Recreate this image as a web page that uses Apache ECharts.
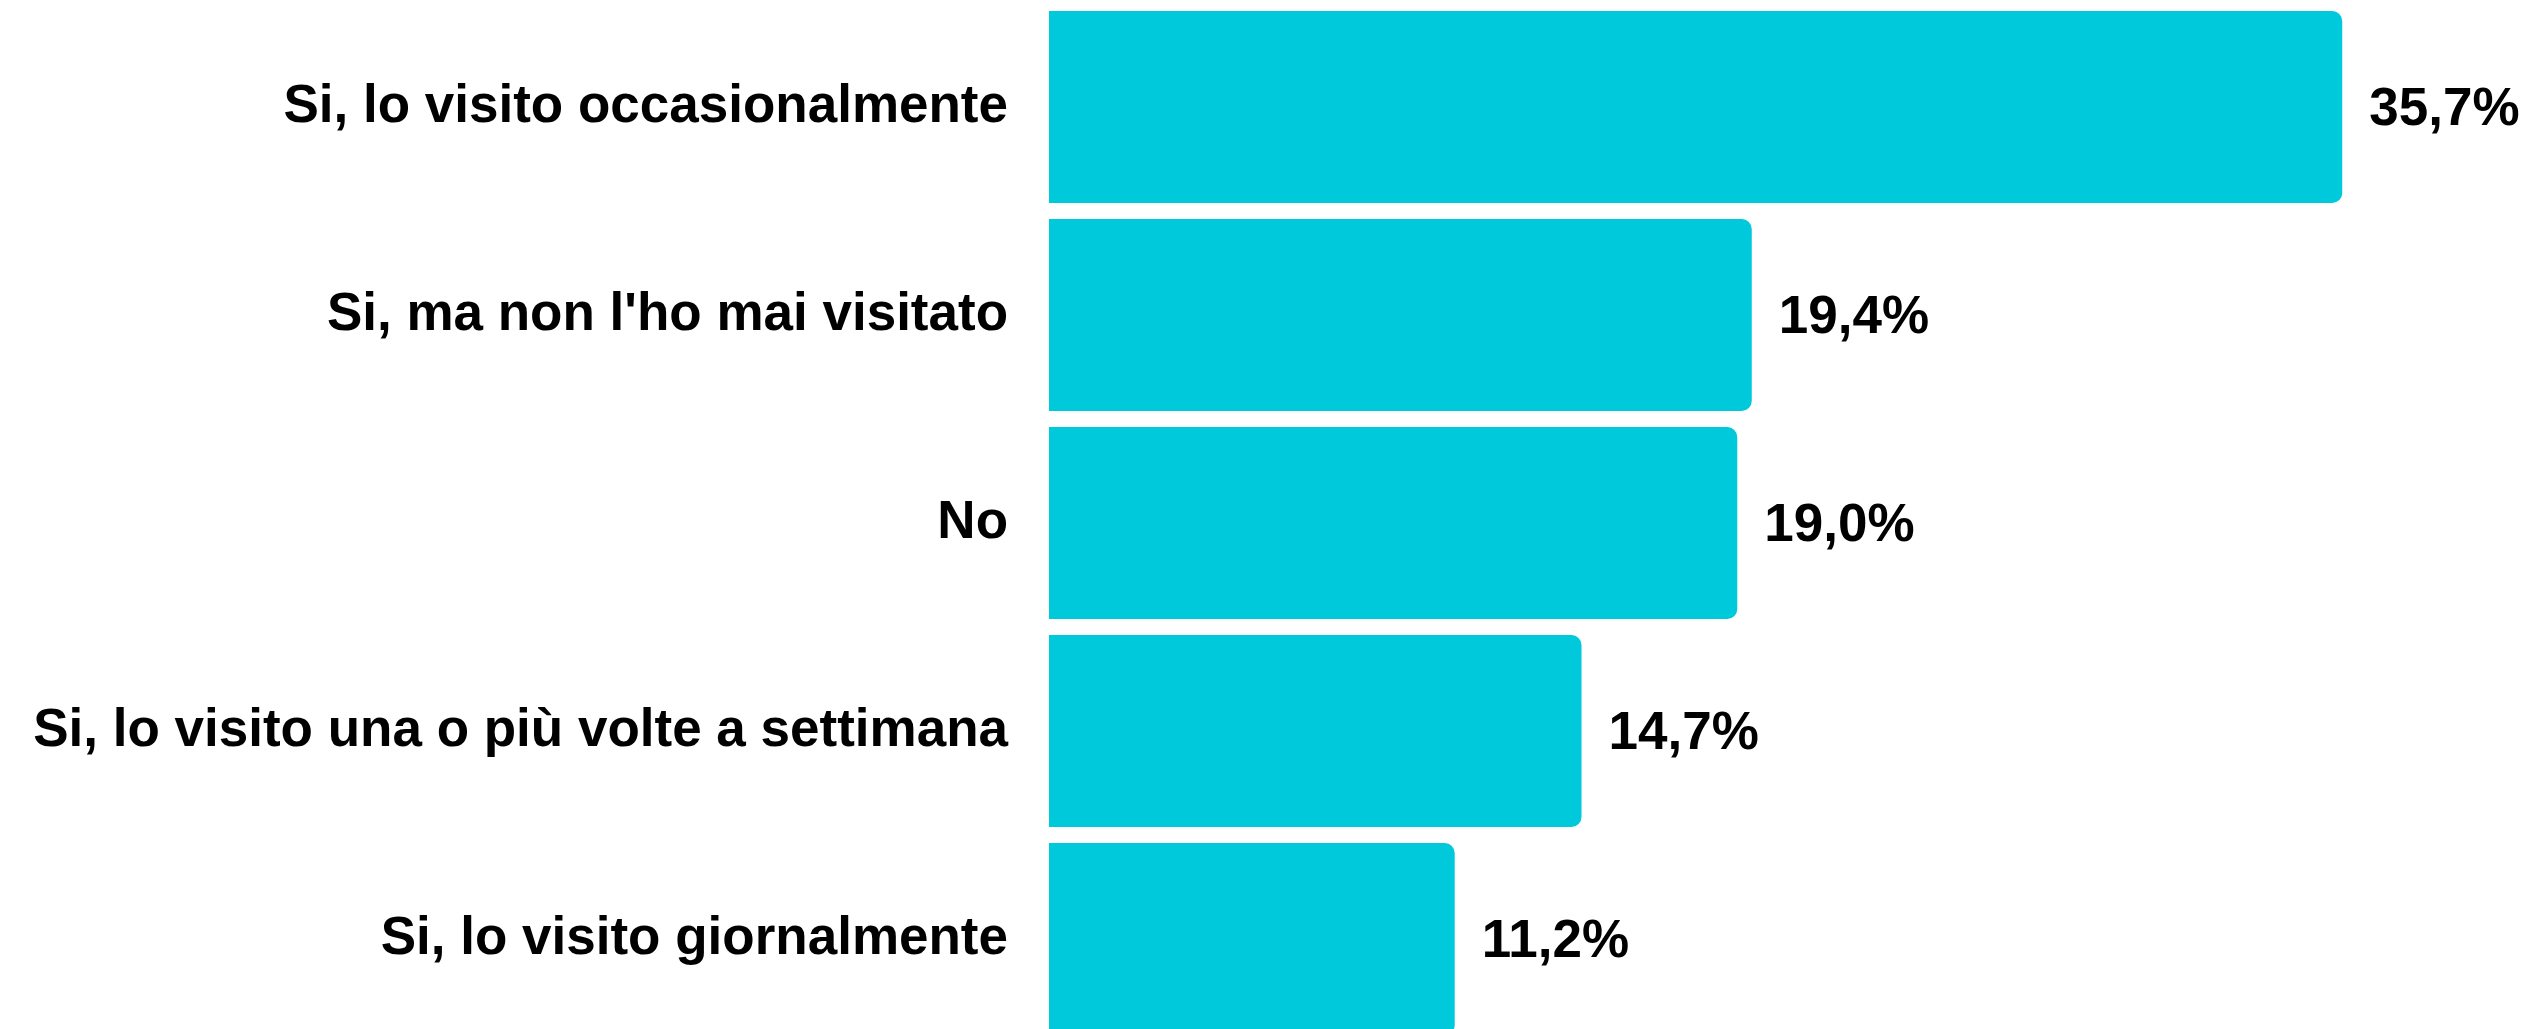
<!DOCTYPE html>
<html>
<head>
<meta charset="utf-8">
<script src="https://cdn.jsdelivr.net/npm/echarts@6/dist/echarts.min.js"></script>
<style>
  html, body { margin: 0; padding: 0; background: #ffffff; }
  #chart { width: 2536px; height: 1029px; }
</style>
</head>
<body>
<div id="chart"></div>
<script>
// Survey answers, top to bottom
const categories = [
  "Si, lo visito occasionalmente",
  "Si, ma non l'ho mai visitato",
  "No",
  "Si, lo visito una o più volte a settimana",
  "Si, lo visito giornalmente"
];
// Share of respondents (%)
const shares = [35.7, 19.4, 19.0, 14.7, 11.2];

const fmtPct = v => v.toFixed(1).replace('.', ',') + '%';

const chart = echarts.init(document.getElementById('chart'), null, { renderer: 'canvas' });
chart.setOption({
  animation: false,
  backgroundColor: '#ffffff',
  grid: {
    left: 1049, top: 3, width: 1449, height: 1040,
    containLabel: false,
    outerBoundsMode: 'none'
  },
  xAxis: {
    type: 'value',
    min: 0,
    max: 40,
    show: false
  },
  yAxis: {
    type: 'category',
    data: categories,
    inverse: true,
    axisLine: { show: false },
    axisTick: { show: false },
    axisLabel: {
      margin: 41,
      color: '#000000',
      fontFamily: 'Liberation Sans, Arial, sans-serif',
      fontWeight: 'bold',
      fontSize: 53
    }
  },
  series: [{
    type: 'bar',
    data: shares,
    barWidth: 192,
    itemStyle: { color: '#00C9DB', borderRadius: [0, 10, 10, 0] },
    label: {
      show: true,
      position: 'right',
      distance: 27,
      offset: [0, 3],
      color: '#000000',
      fontFamily: 'Liberation Sans, Arial, sans-serif',
      fontWeight: 'bold',
      fontSize: 53,
      formatter: p => fmtPct(p.value)
    }
  }]
});
</script>
</body>
</html>
